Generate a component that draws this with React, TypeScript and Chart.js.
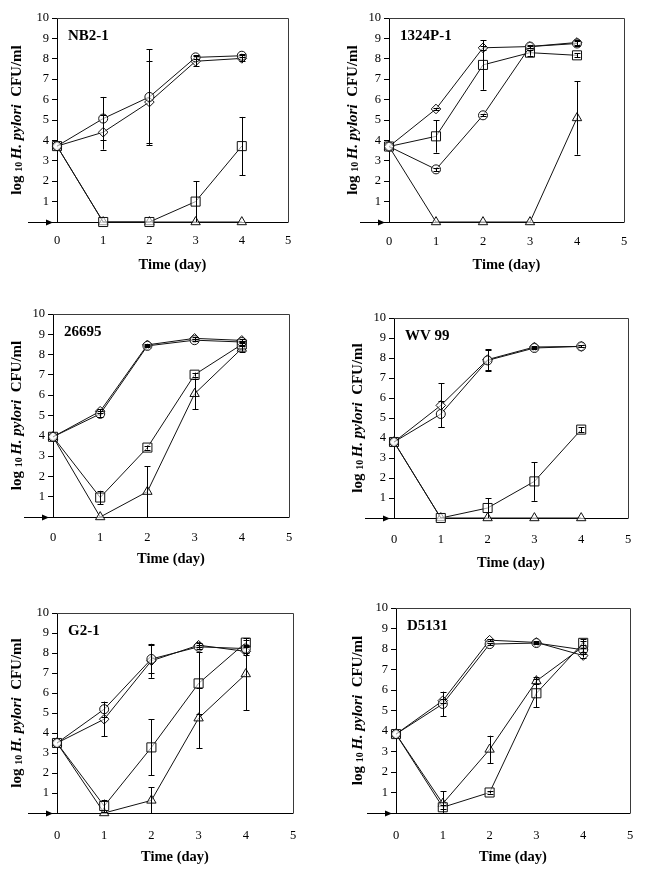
import React, { useEffect, useRef } from "react";
import { Chart, registerables } from "chart.js";

Chart.register(...registerables);

const FONT = '"Liberation Serif", "Times New Roman", serif';

// ---------- data ----------
const days = [0, 1, 2, 3, 4];
const xTickValues = [0, 1, 2, 3, 4, 5];
const yTickValues = [1, 2, 3, 4, 5, 6, 7, 8, 9, 10];
const xAxisTitle = "Time (day)";
const yTitleParts = ["log ", "10 ", "H. pylori", "  CFU/ml"];

// NB2-1
const nb21Circle = [3.72, 5.07, 6.13, 8.07, 8.15];
const nb21CircleErr = [0, 1.06, 2.35, 0.1, 0.08];
const nb21Diamond = [3.72, 4.4, 5.88, 7.88, 8.02];
const nb21DiamondErr = [0, 0.85, 2.0, 0.25, 0.15];
const nb21Square = [3.72, 0, 0, 1.0, 3.72];
const nb21SquareErr = [0, 0, 0, 1.0, 1.43];
const nb21Triangle = [3.72, 0, 0, 0, 0];
const nb21TriangleErr = [0, 0, 0, 0, 0];

// 1324P-1
const p1324Circle = [3.7, 2.58, 5.23, 8.6, 8.75];
const p1324CircleErr = [0, 0.08, 0.05, 0.08, 0.1];
const p1324Diamond = [3.7, 5.54, 8.54, 8.6, 8.8];
const p1324DiamondErr = [0, 0.05, 0.1, 0.05, 0.1];
const p1324Square = [3.7, 4.2, 7.7, 8.3, 8.17];
const p1324SquareErr = [0, 0.8, 1.22, 0.15, 0.1];
const p1324Triangle = [3.7, 0, 0, 0, 5.1];
const p1324TriangleErr = [0, 0, 0, 0, 1.8];

// 26695
const s26695Circle = [3.95, 5.08, 8.43, 8.71, 8.62];
const s26695CircleErr = [0, 0.15, 0.05, 0.05, 0.05];
const s26695Diamond = [3.95, 5.21, 8.48, 8.8, 8.7];
const s26695DiamondErr = [0, 0.1, 0.05, 0.05, 0.05];
const s26695Square = [3.95, 0.96, 3.42, 7.01, 8.5];
const s26695SquareErr = [0, 0.33, 0.1, 0.1, 0.1];
const s26695Triangle = [3.95, 0, 1.25, 6.07, 8.3];
const s26695TriangleErr = [0, 0, 1.25, 0.75, 0.15];

// WV 99
const wv99Circle = [3.8, 5.2, 7.88, 8.5, 8.58];
const wv99CircleErr = [0, 0.65, 0.55, 0.05, 0.05];
const wv99Diamond = [3.8, 5.63, 7.92, 8.55, 8.58];
const wv99DiamondErr = [0, 1.1, 0.5, 0.05, 0.05];
const wv99Square = [3.8, 0, 0.5, 1.83, 4.42];
const wv99SquareErr = [0, 0, 0.5, 0.97, 0.12];
const wv99Triangle = [3.8, 0, 0, 0, 0];
const wv99TriangleErr = [0, 0, 0, 0, 0];

// G2-1
const g21Circle = [3.5, 5.19, 7.7, 8.31, 8.22];
const g21CircleErr = [0, 0.38, 0.7, 0.1, 0.2];
const g21Diamond = [3.5, 4.69, 7.61, 8.39, 8.08];
const g21DiamondErr = [0, 0.86, 0.85, 0.1, 0.2];
const g21Square = [3.5, 0.35, 3.28, 6.48, 8.52];
const g21SquareErr = [0, 0.32, 1.4, 1.55, 0.15];
const g21Triangle = [3.5, 0, 0.63, 4.74, 6.95];
const g21TriangleErr = [0, 0, 0.65, 1.5, 1.8];

// D5131
const d5131Circle = [3.85, 5.32, 8.24, 8.29, 7.96];
const d5131CircleErr = [0, 0.6, 0.05, 0.05, 0.1];
const d5131Diamond = [3.85, 5.48, 8.43, 8.32, 7.68];
const d5131DiamondErr = [0, 0.1, 0.05, 0.05, 0.1];
const d5131Square = [3.85, 0.28, 1.0, 5.84, 8.3];
const d5131SquareErr = [0, 0.1, 0.05, 0.68, 0.1];
const d5131Triangle = [3.85, 0.46, 3.1, 6.44, 8.12];
const d5131TriangleErr = [0, 0.6, 0.67, 0.17, 0.35];

// ---------- styles / layout ----------
const MARKERS: Record<string, { style: string; r: number }> = {
  circle: { style: "circle", r: 4.5 },
  diamond: { style: "rectRot", r: 4.8 },
  square: { style: "rect", r: 6.4 },
  triangle: { style: "triangle", r: 5.4 },
};

type SeriesDef = { marker: string; values: number[]; errors: number[] };
type PanelDef = {
  name: string;
  series: SeriesDef[];
  col: [number, number];
  row: [number, number];
  plot: { l: number; t: number; r: number; b: number };
  xTitleGap: number;
  xLabelGap: number;
  yTitleGap: number;
};

const mk = (c: number[], ce: number[], d: number[], de: number[], s: number[], se: number[], t: number[], te: number[]): SeriesDef[] => [
  { marker: "circle", values: c, errors: ce },
  { marker: "diamond", values: d, errors: de },
  { marker: "square", values: s, errors: se },
  { marker: "triangle", values: t, errors: te },
];

const panels: PanelDef[] = [
  {
    name: "NB2-1",
    series: mk(nb21Circle, nb21CircleErr, nb21Diamond, nb21DiamondErr, nb21Square, nb21SquareErr, nb21Triangle, nb21TriangleErr),
    col: [0, 325], row: [0, 290],
    plot: { l: 57, t: 18, r: 288, b: 222 },
    xTitleGap: 43, xLabelGap: 18, yTitleGap: 40,
  },
  {
    name: "1324P-1",
    series: mk(p1324Circle, p1324CircleErr, p1324Diamond, p1324DiamondErr, p1324Square, p1324SquareErr, p1324Triangle, p1324TriangleErr),
    col: [325, 649], row: [0, 290],
    plot: { l: 389, t: 18, r: 624, b: 222 },
    xTitleGap: 43, xLabelGap: 19, yTitleGap: 36,
  },
  {
    name: "26695",
    series: mk(s26695Circle, s26695CircleErr, s26695Diamond, s26695DiamondErr, s26695Square, s26695SquareErr, s26695Triangle, s26695TriangleErr),
    col: [0, 325], row: [290, 580],
    plot: { l: 53, t: 314, r: 289, b: 517 },
    xTitleGap: 42, xLabelGap: 20, yTitleGap: 36,
  },
  {
    name: "WV 99",
    series: mk(wv99Circle, wv99CircleErr, wv99Diamond, wv99DiamondErr, wv99Square, wv99SquareErr, wv99Triangle, wv99TriangleErr),
    col: [325, 649], row: [290, 580],
    plot: { l: 394, t: 318, r: 628, b: 518 },
    xTitleGap: 45, xLabelGap: 21, yTitleGap: 36,
  },
  {
    name: "G2-1",
    series: mk(g21Circle, g21CircleErr, g21Diamond, g21DiamondErr, g21Square, g21SquareErr, g21Triangle, g21TriangleErr),
    col: [0, 325], row: [580, 875],
    plot: { l: 57, t: 613, r: 293, b: 813 },
    xTitleGap: 44, xLabelGap: 22, yTitleGap: 40,
  },
  {
    name: "D5131",
    series: mk(d5131Circle, d5131CircleErr, d5131Diamond, d5131DiamondErr, d5131Square, d5131SquareErr, d5131Triangle, d5131TriangleErr),
    col: [325, 649], row: [580, 875],
    plot: { l: 396, t: 608, r: 630, b: 813 },
    xTitleGap: 44, xLabelGap: 22, yTitleGap: 38,
  },
];

const Y_AXIS_W = 30;
const X_TITLE_SIZE = 14.5;
const X_TITLE_LH = X_TITLE_SIZE * 1.2;
const TICK_SIZE = 12.5;

// ---------- plugins ----------
const decorPlugin = {
  id: "decor",
  beforeDatasetsDraw(chart: any) {
    const { ctx, chartArea } = chart;
    const { left, top, right, bottom } = chartArea;
    const y0 = chart.scales.y.getPixelForValue(0);
    ctx.save();
    // frame top + right
    ctx.strokeStyle = "#3a3a3a";
    ctx.lineWidth = 1;
    ctx.beginPath();
    ctx.moveTo(left, top + 0.5);
    ctx.lineTo(right + 0.5, top + 0.5);
    ctx.lineTo(right + 0.5, bottom);
    ctx.stroke();
    // x axis line extended left with arrow
    const yy = Math.round(y0) + 0.5;
    ctx.strokeStyle = "#000";
    ctx.beginPath();
    ctx.moveTo(left - 29, yy);
    ctx.lineTo(right + 0.5, yy);
    ctx.stroke();
    ctx.fillStyle = "#000";
    ctx.beginPath();
    const tip = left - 4;
    ctx.moveTo(tip, yy);
    ctx.lineTo(tip - 7, yy - 3);
    ctx.lineTo(tip - 7, yy + 3);
    ctx.closePath();
    ctx.fill();
    ctx.restore();
  },
  afterDraw(chart: any) {
    const { ctx, chartArea } = chart;
    const opts = chart.options.plugins.decor;
    ctx.save();
    // panel name
    ctx.fillStyle = "#000";
    ctx.font = `bold 15px ${FONT}`;
    ctx.textBaseline = "middle";
    ctx.textAlign = "left";
    ctx.fillText(opts.name, chartArea.left + 11, chartArea.top + 18);
    // rich y title
    const segFonts = [
      `bold 15px ${FONT}`,
      `bold 10px ${FONT}`,
      `italic bold 15px ${FONT}`,
      `bold 15px ${FONT}`,
    ];
    const widths = yTitleParts.map((t, i) => {
      ctx.font = segFonts[i];
      return ctx.measureText(t).width;
    });
    const total = widths.reduce((a, b) => a + b, 0);
    const cx = chartArea.left - opts.yTitleGap;
    const cy = (chartArea.top + chartArea.bottom) / 2;
    ctx.translate(cx, cy);
    ctx.rotate(-Math.PI / 2);
    ctx.textAlign = "left";
    ctx.textBaseline = "middle";
    let x = -total / 2;
    yTitleParts.forEach((t, i) => {
      ctx.font = segFonts[i];
      ctx.fillText(t, x, i === 1 ? 2 : 0);
      x += widths[i];
    });
    ctx.restore();
  },
};

const errorBarPlugin = {
  id: "errbars",
  afterDatasetsDraw(chart: any) {
    const { ctx } = chart;
    const xs = chart.scales.x;
    const ys = chart.scales.y;
    ctx.save();
    ctx.strokeStyle = "#000";
    ctx.lineWidth = 1;
    chart.data.datasets.forEach((ds: any) => {
      const errs: number[] = ds.errors || [];
      ds.data.forEach((pt: any, i: number) => {
        const e = errs[i];
        if (!e) return;
        const px = Math.round(xs.getPixelForValue(pt.x)) + 0.5;
        const hi = ys.getPixelForValue(Math.min(10, pt.y + e));
        const lo = ys.getPixelForValue(Math.max(0, pt.y - e));
        ctx.beginPath();
        ctx.moveTo(px, hi);
        ctx.lineTo(px, lo);
        ctx.moveTo(px - 3, Math.round(hi) + 0.5);
        ctx.lineTo(px + 3, Math.round(hi) + 0.5);
        if (pt.y - e > 0) {
          ctx.moveTo(px - 3, Math.round(lo) + 0.5);
          ctx.lineTo(px + 3, Math.round(lo) + 0.5);
        }
        ctx.stroke();
      });
    });
    ctx.restore();
  },
};

// ---------- chart component ----------
function PanelChart({ panel }: { panel: PanelDef }) {
  const ref = useRef<HTMLCanvasElement | null>(null);
  const cw = panel.col[1] - panel.col[0];
  const chh = panel.row[1] - panel.row[0];

  useEffect(() => {
    if (!ref.current) return;
    const p = panel.plot;
    const H = panel.xTitleGap + X_TITLE_LH / 2;
    const padL = p.l - panel.col[0] - Y_AXIS_W;
    const padR = panel.col[1] - p.r;
    const padT = p.t - panel.row[0];
    const padB = Math.max(0, panel.row[1] - p.b - H);

    const datasets = panel.series.map((s) => ({
      label: s.marker,
      data: days.map((d, i) => ({ x: d, y: s.values[i] })),
      errors: s.errors,
      borderColor: "#111",
      borderWidth: 1,
      backgroundColor: "#fff",
      pointStyle: MARKERS[s.marker].style,
      pointRadius: MARKERS[s.marker].r,
      pointBorderColor: "#111",
      pointBackgroundColor: "rgba(255,255,255,0.6)",
      pointBorderWidth: 1,
      tension: 0,
      fill: false,
      clip: false,
    }));

    const chart = new Chart(ref.current, {
      type: "line",
      data: { datasets } as any,
      plugins: [decorPlugin, errorBarPlugin],
      options: {
        responsive: false,
        animation: false,
        devicePixelRatio: 1,
        layout: { padding: { left: padL, right: padR, top: padT, bottom: padB } },
        plugins: {
          legend: { display: false },
          tooltip: { enabled: false },
          decor: { name: panel.name, yTitleGap: panel.yTitleGap },
        } as any,
        scales: {
          x: {
            type: "linear",
            min: 0,
            max: 5,
            afterBuildTicks: (s: any) => {
              s.ticks = xTickValues.map((v) => ({ value: v }));
            },
            ticks: {
              color: "#000",
              font: { family: FONT, size: TICK_SIZE },
              padding: panel.xLabelGap - 7,
              maxRotation: 0,
            },
            grid: { display: false, drawTicks: false },
            border: { display: false },
            title: {
              display: true,
              text: xAxisTitle,
              color: "#000",
              font: { family: FONT, size: X_TITLE_SIZE, weight: "bold", lineHeight: 1.2 },
              padding: 0,
            },
            afterFit: (s: any) => {
              s.height = H;
            },
          },
          y: {
            type: "linear",
            min: 0,
            max: 10,
            afterBuildTicks: (s: any) => {
              s.ticks = yTickValues.map((v) => ({ value: v }));
            },
            ticks: {
              color: "#000",
              font: { family: FONT, size: TICK_SIZE },
              padding: 3,
            },
            grid: { drawOnChartArea: false, drawTicks: true, tickLength: 5, color: "#000" },
            border: { display: true, color: "#000", width: 1 },
            afterFit: (s: any) => {
              s.width = Y_AXIS_W;
            },
          },
        } as any,
      },
    });
    return () => chart.destroy();
  }, [panel]);

  return (
    <canvas
      ref={ref}
      width={cw}
      height={chh}
      style={{ position: "absolute", left: panel.col[0], top: panel.row[0], width: cw, height: chh }}
    />
  );
}

export default function App() {
  return (
    <div style={{ position: "absolute", left: 0, top: 0, width: 649, height: 875, background: "#fff" }}>
      {panels.map((p) => (
        <PanelChart key={p.name} panel={p} />
      ))}
    </div>
  );
}
